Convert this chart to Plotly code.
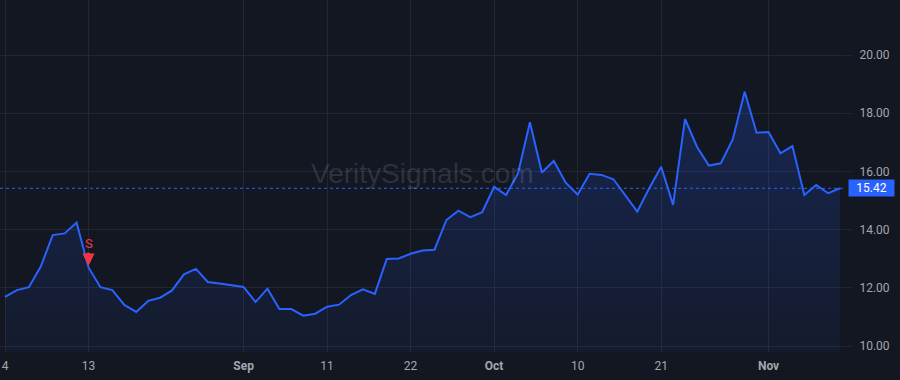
import plotly.graph_objects as go

dates = [
    "2025-08-04", "2025-08-05", "2025-08-06", "2025-08-07", "2025-08-08",
    "2025-08-11", "2025-08-12", "2025-08-13", "2025-08-14", "2025-08-15",
    "2025-08-18", "2025-08-19", "2025-08-20", "2025-08-21", "2025-08-22",
    "2025-08-25", "2025-08-26", "2025-08-27", "2025-08-28", "2025-08-29",
    "2025-09-02", "2025-09-03", "2025-09-04", "2025-09-05",
    "2025-09-08", "2025-09-09", "2025-09-10", "2025-09-11", "2025-09-12",
    "2025-09-15", "2025-09-16", "2025-09-17", "2025-09-18", "2025-09-19",
    "2025-09-22", "2025-09-23", "2025-09-24", "2025-09-25", "2025-09-26",
    "2025-09-29", "2025-09-30", "2025-10-01", "2025-10-02", "2025-10-03",
    "2025-10-06", "2025-10-07", "2025-10-08", "2025-10-09", "2025-10-10",
    "2025-10-13", "2025-10-14", "2025-10-15", "2025-10-16", "2025-10-17",
    "2025-10-20", "2025-10-21", "2025-10-22", "2025-10-23", "2025-10-24",
    "2025-10-27", "2025-10-28", "2025-10-29", "2025-10-30", "2025-10-31",
    "2025-11-03", "2025-11-04", "2025-11-05", "2025-11-06", "2025-11-07",
    "2025-11-10", "2025-11-11",
]

prices = [
    11.69, 11.92, 12.02, 12.73, 13.81, 13.87, 14.24, 12.70, 12.02, 11.92,
    11.41, 11.17, 11.55, 11.66, 11.91, 12.46, 12.65, 12.20, 12.15, 12.10,
    12.03, 11.51, 11.97, 11.27, 11.27, 11.04, 11.11, 11.35, 11.42, 11.75,
    11.95, 11.79, 12.99, 13.01, 13.17, 13.28, 13.31, 14.33, 14.65, 14.43,
    14.60, 15.47, 15.19, 15.93, 17.69, 15.96, 16.36, 15.61, 15.20, 15.92,
    15.88, 15.73, 15.19, 14.62, 15.42, 16.16, 14.85, 17.80, 16.85, 16.20,
    16.28, 17.10, 18.74, 17.33, 17.35, 16.62, 16.87, 15.19, 15.53, 15.25,
    15.42,
]

x_tick_dates = ["2025-08-04", "2025-08-13", "2025-09-02", "2025-09-11", "2025-09-22",
                "2025-10-01", "2025-10-10", "2025-10-21", "2025-11-03"]
x_tick_labels = ["4", "13", "<b>Sep</b>", "11", "22", "<b>Oct</b>", "10", "21", "<b>Nov</b>"]

y_ticks = [10, 12, 14, 16, 18, 20]

signal_date = "2025-08-13"
signal_label = "S"
last_price = prices[-1]
watermark = "VeritySignals.com"

BG = "#131722"
GRID = "#232733"
BLUE = "#2962ff"
RED = "#f23645"
TXT = "#a3a6af"

fig = go.Figure()
fig.add_trace(go.Scatter(
    x=dates, y=prices, mode="lines",
    line=dict(color=BLUE, width=2),
    fill="tozeroy",
    fillgradient=dict(type="vertical", start=9.79, stop=19.0,
                      colorscale=[[0, "rgba(41,98,255,0.05)"], [1, "rgba(41,98,255,0.22)"]]),
    hoverinfo="skip", showlegend=False,
))

fig.add_shape(type="line", xref="paper", x0=0, x1=1, yref="y", y0=last_price, y1=last_price,
              line=dict(color=BLUE, width=1, dash="3px,3px"))

fig.add_annotation(x=1, xref="paper", y=last_price, yref="y", xanchor="left", xshift=3,
                   text=f"{last_price:.2f}", showarrow=False, width=41, height=12,
                   align="center", valign="middle",
                   bgcolor=BLUE, font=dict(color="white", size=12, family="Roboto"),
                   borderpad=2)

fig.add_annotation(x=0.5, y=0.508, xref="paper", yref="paper", text=watermark,
                   showarrow=False, font=dict(size=28, color="rgba(190,195,210,0.17)",
                                              family="Liberation Sans, Arial"))

sig_idx = dates.index(signal_date)
fig.add_annotation(x=signal_date, y=prices[sig_idx] + 0.06, xref="x", yref="y",
                   text=signal_label, showarrow=True, ax=0, ay=-22,
                   arrowcolor=RED, arrowwidth=3.5, arrowhead=2, arrowsize=0.7, standoff=0,
                   font=dict(color=RED, size=13, family="Roboto"))

fig.update_layout(
    width=900, height=380,
    margin=dict(l=0, r=55, t=0, b=28),
    paper_bgcolor=BG, plot_bgcolor=BG,
    font=dict(family="Roboto", color=TXT, size=12),
    xaxis=dict(type="category", range=[-0.419, 70.41],
               tickmode="array", tickvals=x_tick_dates, ticktext=x_tick_labels,
               showgrid=True, gridcolor=GRID, gridwidth=1, zeroline=False,
               showline=False, ticks="", tickfont=dict(size=12, color=TXT),
               ticklabelstandoff=5, fixedrange=True),
    yaxis=dict(side="right", range=[9.794, 21.89], tickmode="array", tickvals=y_ticks,
               tickformat=".2f", showgrid=True, gridcolor=GRID, gridwidth=1,
               zeroline=False, showline=False, ticks="outside", ticklen=5, tickcolor=GRID,
               ticklabelstandoff=6, tickfont=dict(size=12, color=TXT), fixedrange=True),
)

fig.write_html("out.html")
